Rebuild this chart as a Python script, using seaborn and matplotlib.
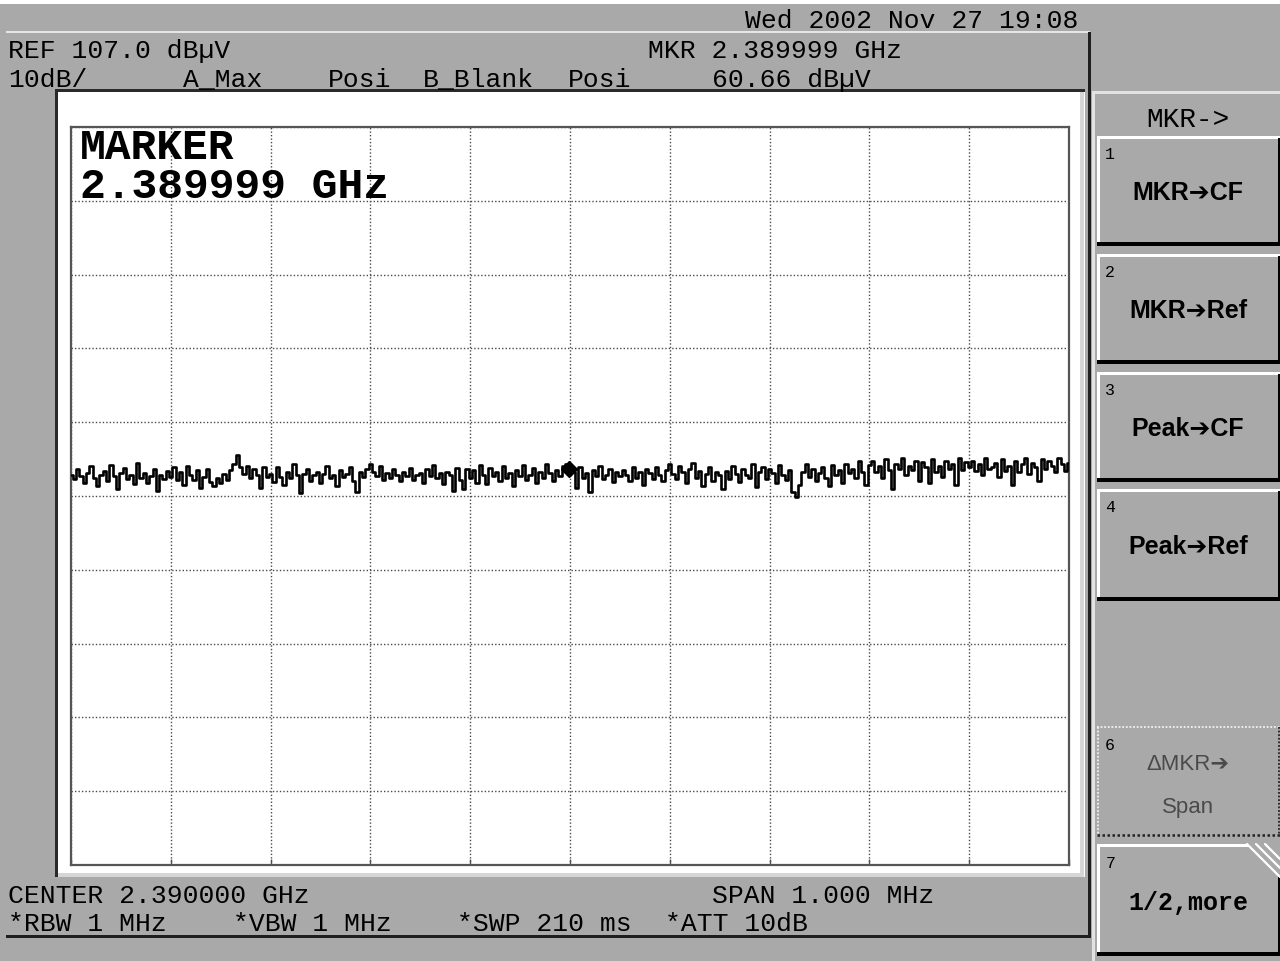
import numpy as np
import pandas as pd
import matplotlib
matplotlib.use("Agg")
import matplotlib.pyplot as plt
from matplotlib.patches import Rectangle
from matplotlib.lines import Line2D
from matplotlib.transforms import Affine2D
import seaborn as sns

# ---------------- data ----------------
ref_level_dbuv = 107.0
db_per_div = 10.0
center_ghz = 2.390000
span_mhz = 1.000
marker_ghz = 2.389999
marker_dbuv = 60.66

trace_div1 = [59.9, 59.3, 60.6, 59.7, 58.8, 60.1, 61.0, 59.5, 58.4, 59.9, 60.4, 59.0, 61.2, 59.7, 57.9,
              60.1, 60.8, 59.3, 59.9, 58.6, 61.5, 59.5, 60.1, 58.8, 59.7, 60.6, 57.7, 59.9, 59.3, 60.4]
trace_div2 = [59.6, 60.9, 59.2, 60.3, 58.5, 61.1, 59.8, 59.2, 60.5, 58.1, 59.6, 60.7, 58.9, 58.3, 59.4,
              58.7, 60.0, 59.2, 60.5, 61.4, 62.6, 60.9, 60.0, 61.1, 59.4, 60.7, 59.8, 58.1, 60.9, 59.6]
trace_div3 = [60.0, 58.9, 60.9, 59.6, 58.5, 60.2, 59.4, 61.3, 59.8, 57.4, 60.0, 60.7, 59.1, 59.8, 60.2,
              58.7, 60.0, 61.1, 59.4, 59.8, 58.3, 60.5, 59.6, 60.0, 60.9, 59.1, 57.6, 60.2, 59.6, 60.7]
trace_div4 = [61.4, 60.3, 59.7, 61.0, 59.2, 60.1, 59.5, 60.6, 59.9, 59.0, 60.3, 59.7, 60.8, 59.2, 59.9,
              60.1, 58.8, 60.6, 59.7, 61.2, 59.5, 60.1, 58.6, 60.3, 59.9, 57.7, 60.8, 59.2, 57.9, 60.6]
trace_div5 = [59.4, 60.5, 58.8, 61.2, 59.9, 58.6, 60.8, 59.7, 60.3, 59.0, 61.0, 59.4, 60.1, 58.3, 60.5,
              59.7, 61.2, 59.2, 59.9, 60.8, 58.8, 60.3, 59.4, 61.4, 60.1, 59.0, 60.5, 59.7, 61.0, 61.3]
trace_div6 = [60.3, 58.1, 60.9, 59.5, 60.1, 57.5, 60.5, 59.7, 61.1, 59.3, 59.9, 60.7, 58.9, 60.3, 59.7,
              60.5, 59.9, 59.1, 60.9, 59.5, 60.3, 58.5, 60.7, 60.1, 59.3, 60.9, 59.9, 59.1, 60.5, 61.3]
trace_div7 = [60.0, 59.3, 61.1, 60.2, 58.7, 60.6, 61.5, 59.5, 60.4, 58.4, 60.0, 60.9, 59.1, 60.2, 59.8,
              58.0, 60.4, 59.3, 61.1, 60.0, 58.9, 60.6, 59.8, 59.5, 61.3, 58.2, 60.2, 60.9, 59.3, 60.6]
trace_div8 = [60.1, 58.7, 61.2, 59.8, 59.2, 60.5, 57.5, 56.9, 58.5, 60.3, 61.4, 59.6, 60.7, 59.0, 60.1,
              60.9, 59.4, 58.3, 61.2, 59.8, 60.5, 58.7, 61.4, 60.1, 60.7, 59.4, 61.8, 60.3, 58.5, 61.2]
trace_div9 = [61.8, 60.2, 61.1, 59.4, 62.0, 60.5, 58.0, 61.3, 60.7, 62.2, 59.8, 61.1, 60.5, 61.8, 59.1,
              61.6, 60.9, 58.7, 62.0, 60.2, 61.1, 59.6, 61.8, 60.7, 61.3, 58.5, 62.2, 60.5, 61.6, 60.9]
trace_div10 = [61.8, 60.4, 61.3, 59.8, 62.2, 60.7, 60.9, 61.5, 59.6, 62.0, 60.4, 61.1, 58.5, 61.8, 60.2,
               61.3, 62.2, 60.0, 61.5, 60.9, 59.1, 62.0, 60.7, 61.8, 61.1, 60.2, 62.2, 61.3, 60.4, 61.5]

header_top = ["REF 107.0 dB\u00b5V", "MKR 2.389999 GHz"]
header_mid = ["10dB/", "A_Max", "Posi", "B_Blank", "Posi", "60.66 dB\u00b5V"]
date_text = "Wed 2002 Nov 27 19:08"
footer_top = ["CENTER 2.390000 GHz", "SPAN 1.000 MHz"]
footer_bot = ["*RBW 1 MHz", "*VBW 1 MHz", "*SWP 210 ms", "*ATT 10dB"]
softkey_title = "MKR->"
softkey_labels = ["MKR\u2794CF", "MKR\u2794Ref", "Peak\u2794CF", "Peak\u2794Ref"]
softkey_numbers = ["1", "2", "3", "4"]
softkey6 = ["6", "\u0394MKR\u2794", "Span"]
softkey7 = ["7", "1/2,more"]
marker_readout = ["MARKER", "2.389999 GHz"]

# ---------------- build ----------------
trace_dbuv = (trace_div1 + trace_div2 + trace_div3 + trace_div4 + trace_div5 + [marker_dbuv]
              + trace_div6 + trace_div7 + trace_div8 + trace_div9 + trace_div10)
f_start = center_ghz - span_mhz / 2000.0
f_stop = center_ghz + span_mhz / 2000.0
freq = np.linspace(f_start, f_stop, len(trace_dbuv))
df = pd.DataFrame({"freq": freq, "level": trace_dbuv})

sns.set_style("white")
plt.rcParams["font.family"] = ["Liberation Mono", "DejaVu Sans Mono", "DejaVu Sans"]

W, H = 1280, 962
GRAY = "#a9a9a9"
fig = plt.figure(figsize=(W / 100, H / 100), dpi=100, facecolor=GRAY)
T = Affine2D().scale(1.0 / W, -1.0 / H).translate(0, 1) + fig.transFigure


def rect(x0, y0, x1, y1, fc, ec="none", lw=0, ls="-", z=1):
    fig.add_artist(Rectangle((x0, y0), x1 - x0, y1 - y0, transform=T, facecolor=fc,
                             edgecolor=ec, linewidth=lw, linestyle=ls, zorder=z))


def line(xs, ys, color, lw, ls="-", z=3):
    fig.add_artist(Line2D(xs, ys, transform=T, color=color, linewidth=lw, linestyle=ls, zorder=z))


def txt(x, y, s, size, ha="left", weight="normal", family=None, color="black", z=10):
    fam = family or ["Liberation Mono", "DejaVu Sans Mono", "DejaVu Sans"]
    fig.text(x, y, s, transform=T, ha=ha, va="baseline", fontsize=size, fontweight=weight,
             family=fam, color=color, zorder=z)


# frame pieces
rect(0, 0, W, 5, "white")
rect(6, 32, 1090, 34, "#e6e6e6")
rect(1088, 33, 1091, 939, "#1e1e1e")
rect(6, 936, 1091, 939, "#1e1e1e")

# screen panel
rect(55, 90, 1085, 878, "white", z=0.5)
rect(55, 90, 1085, 93, "#2a2a2a")
rect(55, 90, 58, 878, "#2a2a2a")
rect(1080, 93, 1084, 878, "#d6d6d6")
rect(58, 874, 1084, 878, "#d6d6d6")

# header text
HS = 19
txt(745, 28, date_text, HS)
txt(8, 58, header_top[0], HS)
txt(648, 58, header_top[1], HS)
for x, s in zip([8, 183, 328, 423, 568, 712], header_mid):
    txt(x, 87, s, HS)
txt(8, 903, footer_top[0], HS)
txt(712, 903, footer_top[1], HS)
for x, s in zip([8, 233, 457, 665], footer_bot):
    txt(x, 931, s, HS)

# softkey panel
rect(1092, 92, 1095, 962, "#e2e2e2")
rect(1092, 92, W, 95, "#e2e2e2")
txt(1188, 127, softkey_title, 20, ha="center")

sans = ["Liberation Sans", "DejaVu Sans"]


def button(y0, y1, x0=1097, x1=W):
    rect(x0, y0, x1, y1, GRAY, z=1)
    rect(x0, y0, x1, y0 + 3, "white", z=2)
    rect(x0, y0, x0 + 3, y1, "white", z=2)
    rect(x0, y1 - 4, x1, y1, "black", z=2)
    rect(x1 - 2, y0 + 2, x1, y1, "black", z=2)


btn_rows = [(137, 247), (255, 365), (373, 483), (490, 602)]
for (y0, y1), num, lab in zip(btn_rows, softkey_numbers, softkey_labels):
    button(y0, y1)
    txt(1105, y0 + 22, num, 12)
    txt(1188, (y0 + y1) / 2 + 8, lab, 18, ha="center", weight="bold", family=sans)

# softkey 6 (disabled, dotted)
rect(1097, 727, W, 838, GRAY, z=1)
line([1097, W], [728, 728], "#f2f2f2", 1.3, ls=(0, (1, 1)))
line([1098, 1098], [728, 837], "#f2f2f2", 1.3, ls=(0, (1, 1)))
line([1097, W], [836, 836], "#222222", 1.8, ls=(0, (1, 1)))
line([W - 1, W - 1], [728, 837], "#222222", 1.3, ls=(0, (1, 1)))
txt(1105, 750, softkey6[0], 12)
txt(1188, 770, softkey6[1], 16, ha="center", family=sans, color="#4a4a4a")
txt(1188, 813, softkey6[2], 16, ha="center", family=sans, color="#4a4a4a")

# softkey 7
button(845, 957)
fig.add_artist(plt.Polygon([(1247, 845), (W, 845), (W, 878)], closed=True, transform=T,
                           facecolor=GRAY, edgecolor="none", zorder=2.5))
for k in range(3):
    line([1247 + 9 * k, W], [845, 878 - 9 * k], "white", 1.6, z=3)
txt(1106, 868, softkey7[0], 12)
txt(1188, 910, softkey7[1], 18, ha="center", weight="bold")

# ---------------- graticule / trace ----------------
ax = fig.add_axes([71 / W, 1 - 866 / H, (1069 - 71) / W, (866 - 128) / H])
ax.set_zorder(3)
ax.set_facecolor("white")
sns.lineplot(data=df, x="freq", y="level", ax=ax, color="black", linewidth=1.9,
             drawstyle="steps-mid", estimator=None, zorder=3)
ax.plot([marker_ghz], [marker_dbuv], marker="D", markersize=8, color="black", zorder=4)

bottom_level = ref_level_dbuv - 10 * db_per_div
ax.set_xlim(f_start, f_stop)
ax.set_ylim(bottom_level, ref_level_dbuv)
ax.set_xticks(np.linspace(f_start, f_stop, 11))
ax.set_yticks(np.linspace(bottom_level, ref_level_dbuv, 11))
ax.set_xticklabels([])
ax.set_yticklabels([])
ax.set_xlabel("")
ax.set_ylabel("")
ax.tick_params(axis="x", direction="in", length=4, width=1, color="#505050", bottom=True)
ax.tick_params(axis="y", length=0)
ax.grid(True, color="#4a4a4a", linestyle=(0, (1, 1.5)), linewidth=1.0)
ax.set_axisbelow(True)
for sp in ax.spines.values():
    sp.set_color("#555555")
    sp.set_linewidth(1.6)

# marker readout inside graticule
txt(80, 159, marker_readout[0], 31, weight="bold")
txt(80, 198, marker_readout[1], 31, weight="bold")

fig.savefig("out.png", dpi=100, facecolor=GRAY)
